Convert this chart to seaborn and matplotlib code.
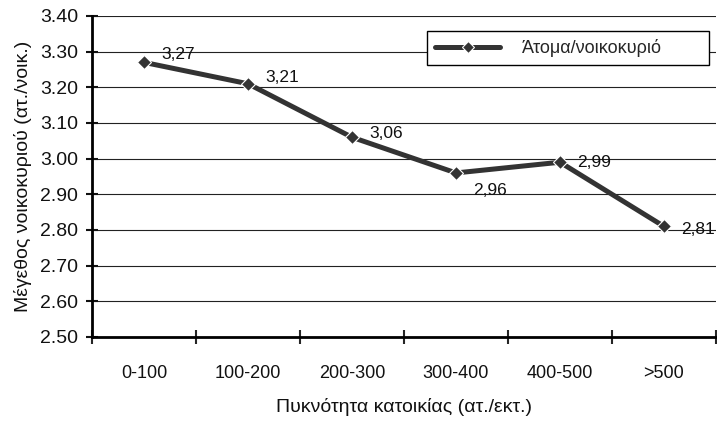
import numpy as np
import pandas as pd
import seaborn as sns
import matplotlib as mpl
from matplotlib import pyplot as plt
from matplotlib.ticker import FixedLocator, MultipleLocator

# data
categories = ['0-100', '100-200', '200-300', '300-400', '400-500', '>500']
persons_per_household = [3.27, 3.21, 3.06, 2.96, 2.99, 2.81]
value_labels = ['3,27', '3,21', '3,06', '2,96', '2,99', '2,81']
series_name = 'Άτομα/νοικοκυριό'

sns.set_theme(style='white')
plt.rcParams['font.family'] = ['Liberation Sans Narrow', 'Liberation Sans', 'DejaVu Sans']

df = pd.DataFrame({'cat': categories, 'val': persons_per_household})
df['x'] = np.arange(len(df))

fig = plt.figure(figsize=(7.17, 4.24), dpi=100)
ax = fig.add_axes([92/717, 87/424, 624/717, 321/424])

sns.lineplot(data=df, x='x', y='val', ax=ax, color='#333333', linewidth=3.6,
             marker='D', markersize=7.5, markeredgecolor='white', markeredgewidth=0.8,
             label=series_name)

# label offsets (px) to the right of each point
offsets = [(17, 8), (17, 6), (17, 4), (17, -18), (17, 0), (17, -3)]
for xi, yi, txt, (dx, dy) in zip(df['x'], df['val'], value_labels, offsets):
    ax.annotate(txt, (xi, yi), xytext=(dx * 0.72, dy * 0.72), textcoords='offset points',
                ha='left', va='center', fontsize=12.5, color='#111111')

ax.set_xlim(-0.5, len(categories) - 0.5)
ax.set_ylim(2.5, 3.4)
ax.yaxis.set_major_locator(MultipleLocator(0.1))
ax.yaxis.set_major_formatter(mpl.ticker.StrMethodFormatter('{x:.2f}'))
ax.grid(axis='y', color='#222222', linewidth=0.8)
ax.set_axisbelow(True)

ax.set_xticks(df['x'])
ax.set_xticklabels(categories)
ax.xaxis.set_minor_locator(FixedLocator(np.arange(-0.5, len(categories), 1)))
ax.tick_params(axis='x', which='major', length=0, pad=20, labelsize=13, colors='#111111')
ax.tick_params(axis='x', which='minor', direction='inout', length=10, width=1.5, bottom=True)
ax.tick_params(axis='y', direction='inout', length=8, width=1.5, pad=6, left=True,
               labelsize=14, colors='#111111')

for side in ['top', 'right']:
    ax.spines[side].set_visible(False)
for side in ['left', 'bottom']:
    ax.spines[side].set_color('black')
    ax.spines[side].set_linewidth(2)

ax.set_xlabel('Πυκνότητα κατοικίας (ατ./εκτ.)', fontsize=14, color='#111111', labelpad=12)
ax.set_ylabel('Μέγεθος νοικοκυριού (ατ./νοικ.)', fontsize=14, color='#111111', labelpad=6)

leg = ax.legend(loc='center', bbox_to_anchor=(0.537, 0.847, 0.452, 0.106), mode='expand',
                frameon=True, fancybox=False, edgecolor='black', framealpha=1,
                fontsize=13, handlelength=3.6, handletextpad=1.2, borderaxespad=0,
                borderpad=0.45)
leg.get_frame().set_linewidth(1)
for h in leg.legend_handles:
    h.set_markersize(6)

fig.savefig('out.png', dpi=100)
